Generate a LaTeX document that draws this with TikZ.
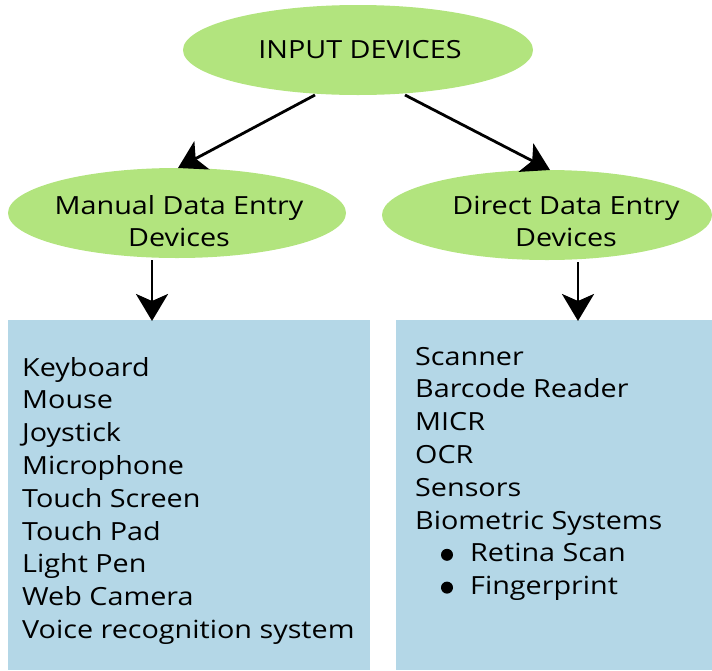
\documentclass[tikz,border=0pt]{standalone}
\usepackage{fontspec}
\setmainfont{Open Sans}
\usetikzlibrary{shapes.geometric,arrows.meta}
\definecolor{leafgreen}{HTML}{B2E47E}
\definecolor{paleblue}{HTML}{B4D7E7}
\newcommand{\wide}[1]{\scalebox{1.15}[1]{#1}}
\tikzset{
  bubble/.style={ellipse, fill=leafgreen, inner sep=0pt},
  label/.style={inner sep=0pt, align=center, font=\fontsize{25}{32}\selectfont},
  panel/.style={fill=paleblue, draw=none},
  link/.style={line width=2.8pt, -{Stealth[length=27pt,width=32pt,inset=7pt]}},
  entry/.style={anchor=base west, inner sep=0pt, font=\fontsize{25}{28}\selectfont}
}
\begin{document}
\begin{tikzpicture}[x=1pt,y=-1pt]
\useasboundingbox (0,0) rectangle (712,670);
% top-level and category ellipses
\node[bubble, minimum width=350, minimum height=90] (top) at (358,50) {};
\node[label] (toptext) at (360,50) {\wide{INPUT DEVICES}};
\node[bubble, minimum width=338, minimum height=90] (man) at (177,213) {};
\node[label] (mantext) at (179,221) {\wide{Manual Data Entry}\\\wide{Devices}};
\node[bubble, minimum width=330, minimum height=90] (dir) at (547,215) {};
\node[label] (dirtext) at (566,221) {\wide{Direct Data Entry}\\\wide{Devices}};
% device panels
\fill[panel] (8,320) rectangle (370,670);
\fill[panel] (396,320) rectangle (712,670);
\coordinate (manbox) at (152,321);
\coordinate (dirbox) at (578,321);
% connectors
\coordinate (ta) at (315,95);
\coordinate (tb) at (405,95);
\coordinate (la) at (178,168);
\coordinate (rb) at (550,170);
\draw[link] (ta) -- (la);
\draw[link] (tb) -- (rb);
\coordinate (ma) at (152,260);
\coordinate (da) at (578,262);
\draw[link] (ma) -- (manbox);
\draw[link] (da) -- (dirbox);
% manual entry devices
\foreach \t [count=\i from 0] in {Keyboard,Mouse,Joystick,Microphone,Touch Screen,Touch Pad,Light Pen,Web Camera,Voice recognition system}
  \node[entry] (m\i) at (22,{376+32.8*\i}) {\wide{\t}};
% direct entry devices
\foreach \t [count=\i from 0] in {Scanner,Barcode Reader,MICR,OCR,Sensors,Biometric Systems}
  \node[entry] (d\i) at (415,{365+32.8*\i}) {\wide{\t}};
\node[entry] (r1) at (470,{365+32.8*6}) {\wide{Retina Scan}};
\node[entry] (r2) at (470,{365+32.8*7}) {\wide{Fingerprint}};
\fill (r1.base west) ++(-23,-7) circle (6);
\fill (r2.base west) ++(-23,-7) circle (6);
\end{tikzpicture}
\end{document}
